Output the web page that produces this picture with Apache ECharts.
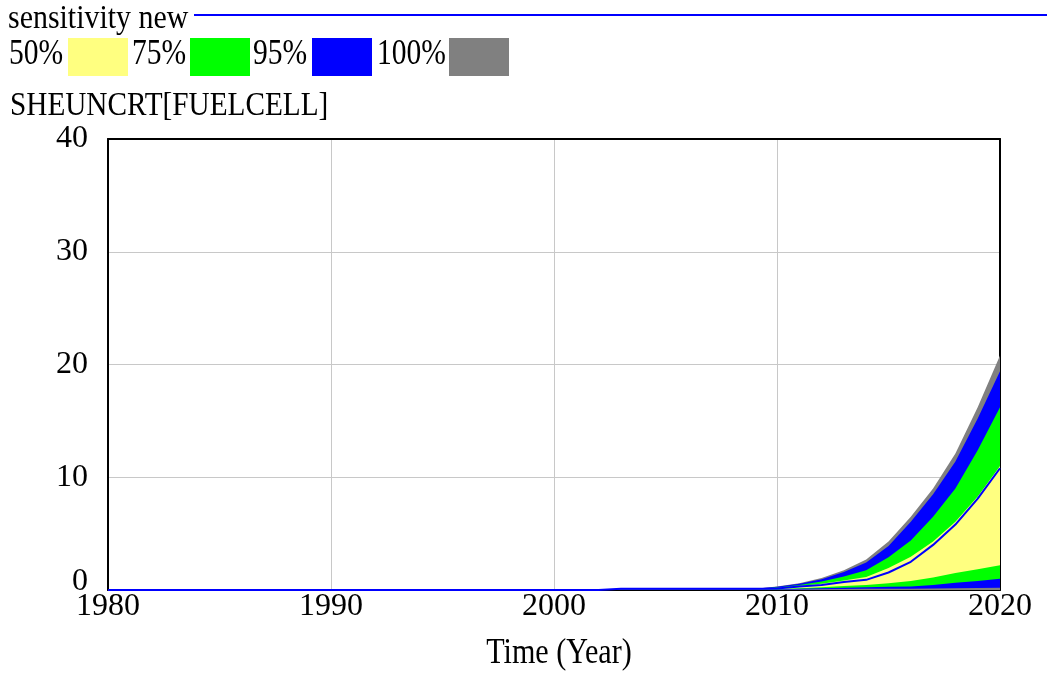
<!DOCTYPE html>
<html>
<head>
<meta charset="utf-8">
<script src="https://cdn.jsdelivr.net/npm/echarts@6/dist/echarts.min.js"></script>
<style>
  html, body { margin: 0; padding: 0; background: #fff; }
  #chart { width: 1047px; height: 673px; }
</style>
</head>
<body>
<div id="chart"></div>
<script>
// Time axis (years)
const years = [1980,1981,1982,1983,1984,1985,1986,1987,1988,1989,
               1990,1991,1992,1993,1994,1995,1996,1997,1998,1999,
               2000,2001,2002,2003,2004,2005,2006,2007,2008,2009,
               2010,2011,2012,2013,2014,2015,2016,2017,2018,2019,2020];
const xTicks = [1980, 1990, 2000, 2010, 2020];
const yTicks = [0, 10, 20, 30, 40];

// Sensitivity confidence bounds of SHEUNCRT[FUELCELL]
const z23 = [0,0,0,0,0,0,0,0,0,0,0,0,0,0,0,0,0,0,0,0,0,0,0];
const upper100 = z23.concat([0.12,0.12,0.12,0.12,0.12,0.12,0.12, 0.3,0.6,1.06,1.75,2.7,4.3,6.5,9.0,12.1,16.2,20.8]);
const upper95  = z23.concat([0.11,0.11,0.11,0.11,0.11,0.11,0.11, 0.28,0.55,0.95,1.6,2.45,3.9,6.05,8.5,11.4,15.2,19.4]);
const upper75  = z23.concat([0.1,0.1,0.1,0.1,0.1,0.1,0.1, 0.22,0.45,0.75,1.2,1.75,2.9,4.4,6.5,9.0,12.4,16.2]);
const upper50  = z23.concat([0.1,0.1,0.1,0.1,0.1,0.1,0.1, 0.15,0.35,0.55,0.85,1.15,1.95,2.95,4.3,6.05,8.3,11.0]);
const lower50  = z23.concat([0.08,0.08,0.08,0.08,0.08,0.08,0.08, 0.08,0.15,0.25,0.35,0.45,0.6,0.8,1.1,1.5,1.85,2.2]);
const lower75  = z23.concat([0.06,0.06,0.06,0.06,0.06,0.06,0.06, 0.05,0.1,0.15,0.2,0.25,0.28,0.32,0.45,0.65,0.8,1.0]);
const lower95  = z23.concat([0.04,0.04,0.04,0.04,0.04,0.04,0.04, 0.03,0.05,0.07,0.08,0.1,0.1,0.12,0.13,0.15,0.17,0.2]);
// Base run "sensitivity new"
const baseRun  = z23.concat([0.1,0.1,0.1,0.1,0.1,0.1,0.1, 0.13,0.3,0.45,0.7,0.9,1.55,2.5,4.0,5.8,8.1,10.8]);

const legendItems = ['50%', '75%', '95%', '100%'];
const bandColors = { '50%': '#ffff80', '75%': '#00ff00', '95%': '#0000ff', '100%': '#808080' };

const FONT = 'Liberation Serif, Times New Roman, serif';
const pairs = arr => years.map((y, i) => [y, arr[i]]);

// Each band edge is filled down to zero; painting order builds the nested bands.
function fillSeries(arr, color, z) {
  return {
    type: 'line', data: pairs(arr), showSymbol: false, silent: true,
    lineStyle: { width: 0, color: color }, areaStyle: { color: color, opacity: 1, origin: 'start' },
    z: z, animation: false
  };
}

const chart = echarts.init(document.getElementById('chart'), null, { renderer: 'canvas' });

// header: run name, band legend and variable name
const legendX = [9, 132, 253, 377];
const boxX = [68, 190, 312, 449];
const graphic = [
  { type: 'text', x: 8, y: 19, scaleX: 0.88, style: { text: 'sensitivity new', font: '34px ' + FONT, fill: '#000', verticalAlign: 'middle' } },
  { type: 'line', shape: { x1: 194, y1: 15, x2: 1047, y2: 15 }, style: { stroke: '#0000ff', lineWidth: 2 } },
  { type: 'text', x: 10, y: 106, scaleX: 0.86, style: { text: 'SHEUNCRT[FUELCELL]', font: '34px ' + FONT, fill: '#000', verticalAlign: 'middle' } }
];
legendItems.forEach((name, i) => {
  graphic.push({ type: 'text', x: legendX[i], y: 55, scaleX: 0.82, style: { text: name, font: '36px ' + FONT, fill: '#000', verticalAlign: 'middle' } });
  graphic.push({ type: 'rect', shape: { x: boxX[i], y: 38, width: 60, height: 38 }, style: { fill: bandColors[name] } });
});
graphic.push({ type: 'text', x: 559, y: 654, scaleX: 0.86, style: { text: 'Time (Year)', font: '35px ' + FONT, fill: '#000', align: 'center', verticalAlign: 'middle' } });

const frameAxis = { show: true, onZero: false, lineStyle: { color: '#000', width: 2 } };

chart.setOption({
  backgroundColor: '#fff',
  animation: false,
  grid: { left: 108, right: 47, top: 139, bottom: 83 },
  xAxis: [{
    type: 'value', min: xTicks[0], max: xTicks[xTicks.length - 1], interval: 10,
    axisLine: frameAxis,
    axisTick: { show: false },
    splitLine: { show: true, lineStyle: { color: '#c8c8c8', width: 1 } },
    axisLabel: { color: '#000', fontFamily: FONT, fontSize: 32, margin: 1, formatter: v => String(v) }
  }, {
    type: 'value', position: 'top', min: xTicks[0], max: xTicks[xTicks.length - 1], interval: 10,
    axisLine: frameAxis, axisTick: { show: false }, axisLabel: { show: false }, splitLine: { show: false }
  }],
  yAxis: [{
    type: 'value', min: yTicks[0], max: yTicks[yTicks.length - 1], interval: 10,
    axisLine: frameAxis,
    axisTick: { show: false },
    splitLine: { show: true, lineStyle: { color: '#c8c8c8', width: 1 } },
    axisLabel: {
      color: '#000', fontFamily: FONT, fontSize: 32, margin: 20,
      formatter: v => v === 0 ? '{z|0}' : String(v),
      rich: { z: { fontFamily: FONT, fontSize: 32, color: '#000', padding: [0, 0, 16, 0] } }
    }
  }, {
    type: 'value', position: 'right', min: yTicks[0], max: yTicks[yTicks.length - 1], interval: 10,
    axisLine: frameAxis, axisTick: { show: false }, axisLabel: { show: false }, splitLine: { show: false }
  }],
  graphic: graphic,
  series: [
    fillSeries(upper100, bandColors['100%'], 2),
    fillSeries(upper95, bandColors['95%'], 3),
    fillSeries(upper75, bandColors['75%'], 4),
    fillSeries(upper50, bandColors['50%'], 5),
    fillSeries(lower50, bandColors['75%'], 6),
    fillSeries(lower75, bandColors['95%'], 7),
    fillSeries(lower95, bandColors['100%'], 8),
    {
      name: 'sensitivity new', type: 'line', data: pairs(baseRun), showSymbol: false,
      lineStyle: { color: '#0000ff', width: 2 }, z: 10, animation: false
    }
  ]
});
</script>
</body>
</html>
